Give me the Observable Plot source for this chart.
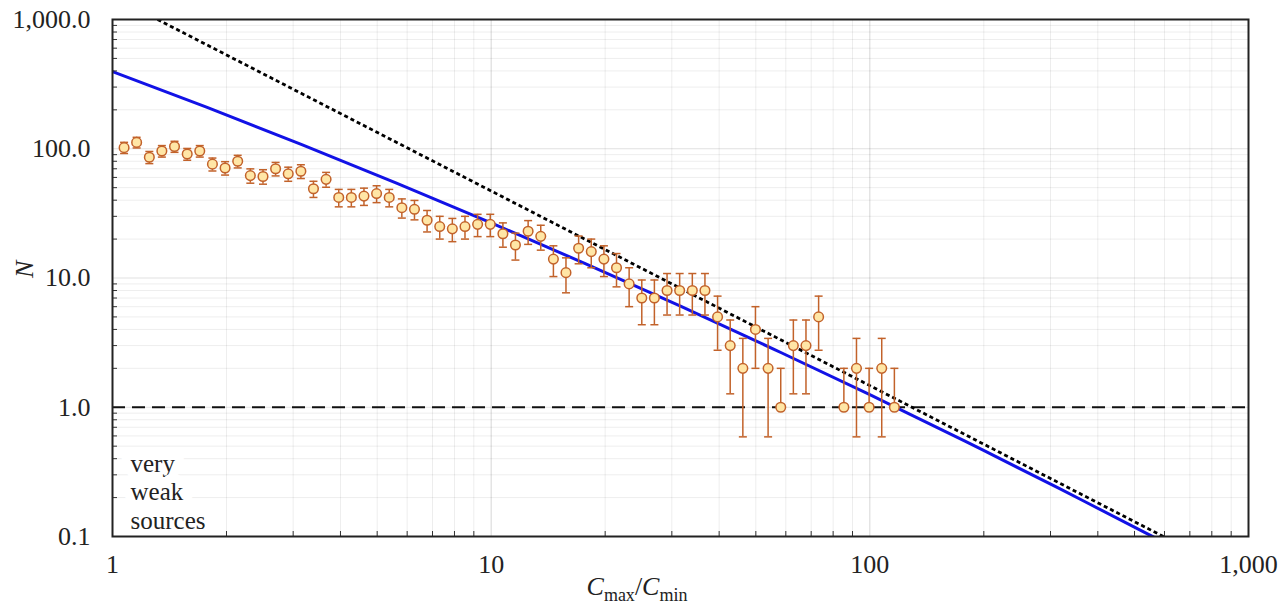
<!DOCTYPE html>
<html><head><meta charset="utf-8">
<script src="https://cdn.jsdelivr.net/npm/d3@7"></script>
<script src="https://cdn.jsdelivr.net/npm/@observablehq/plot@0.6"></script>
<style>
body{margin:0;background:#fff}
svg{display:block}
#chart svg, #chart svg text, #chart svg tspan { font-family: "Liberation Serif", "DejaVu Serif", serif !important; }
</style>
</head><body><div id="chart"></div>
<script>
// bin centres (Cmax/Cmin)
const binX = [1.073,1.158,1.251,1.350,1.458,1.575,1.700,1.836,1.983,2.141,2.312,2.497,2.696,2.911,3.144,3.394,3.665,3.958,4.273,4.614,4.982,5.380,5.809,6.273,6.773,7.314,7.897,8.528,9.209,9.945,10.74,11.59,12.52,13.52,14.60,15.76,17.02,18.38,19.85,21.43,23.14,24.99,26.98,29.14,31.46,33.98,36.69,39.62,42.78,46.20,49.88,53.87,58.17,62.81,67.82,73.24,85.40,92.20,99.56,107.5,116.1];
// counts N
const counts = [102,112,86,96,104,91,96,76,71,80,62,61,70,64,67,49,58,42,42,43,45,42,35,34,28,25,24,25,26,26,22,18,23,21,14,11,17,16,14,12,9,7,7,8,8,8,8,5,3,2,4,2,1,3,3,5,1,2,1,2,1];
// error bar half-lengths
const errs = [10.1,10.6,9.27,9.80,10.2,9.54,9.80,8.72,8.43,8.94,7.87,7.81,8.37,8.00,8.19,7.00,7.62,6.48,6.48,6.56,6.71,6.48,5.92,5.83,5.29,5.00,4.90,5.00,5.10,5.10,4.69,4.24,4.80,4.58,3.74,3.32,4.12,4.00,3.74,3.46,3.00,2.65,2.65,2.83,2.83,2.83,2.83,2.24,1.73,1.41,2.00,1.41,1.00,1.73,1.73,2.24,1.00,1.41,1.00,1.41,1.00];
// blue model curve
const fitX = [1, 1.778, 3.162, 5.623, 10, 17.78, 31.62, 56.23, 100, 177.8, 316.2, 562.3, 600];
const fitN = [395, 208.7, 107.6, 54.3, 26.7, 12.87, 6.05, 2.78, 1.25, 0.549, 0.2355, 0.0988, 0.09];
// dotted reference power law
const refX = [1.315, 596];
const refN = [1000, 0.1];
const thresholdN = [1];
const xTicks = [1, 10, 100, 1000];
const yTicks = [0.1, 1, 10, 100, 1000];
const noteText = "very\nweak\nsources";

const pts = binX.map((x, i) => ({x, n: counts[i], hi: counts[i] + errs[i], lo: counts[i] - errs[i] > 0 ? counts[i] - errs[i] : null}));
const fit = fitX.map((x, i) => ({x, n: fitN[i]}));
const ref = refX.map((x, i) => ({x, n: refN[i]}));

const minorOf = ticks => ticks.slice(0, -1).flatMap(t => d3.range(2, 10).map(k => +(t * k).toPrecision(3)));
const xMinor = minorOf(xTicks);
const yMinor = minorOf(yTicks);

const capSymbol = {draw(ctx, size) { const r = Math.sqrt(size / Math.PI); ctx.moveTo(-r, 0); ctx.lineTo(r, 0); }};
const ORANGE = "#c2622a";
const FONT = "'Liberation Serif', 'DejaVu Serif', serif";

const chart = Plot.plot({
  width: 1288, height: 608,
  marginLeft: 112, marginRight: 40, marginTop: 19, marginBottom: 72,
  style: `font-family: ${FONT}; font-size: 26px; color: #222; background: #fff;`,
  x: {type: "log", domain: [1, 1000]},
  y: {type: "log", domain: [0.1, 1000]},
  marks: [
    Plot.gridX(xMinor, {stroke: "#000", strokeOpacity: 0.07}),
    Plot.gridY(yMinor, {stroke: "#000", strokeOpacity: 0.07}),
    Plot.gridX(xTicks.slice(1, -1), {stroke: "#000", strokeOpacity: 0.16}),
    Plot.gridY(yTicks.slice(1, -1), {stroke: "#000", strokeOpacity: 0.12}),
    Plot.ruleY(thresholdN, {stroke: "#111", strokeWidth: 2, strokeDasharray: "13,7"}),
    Plot.line(ref, {x: "x", y: "n", stroke: "#000", strokeWidth: 2.8, strokeDasharray: "4,3", strokeLinecap: "butt", clip: true}),
    Plot.line(fit, {x: "x", y: "n", curve: "natural", stroke: "#1212e6", strokeWidth: 3, clip: true}),
    Plot.ruleX(pts, {x: "x", y1: d => d.lo ?? d.n, y2: "hi", stroke: ORANGE, strokeWidth: 1.5}),
    Plot.dot(pts, {x: "x", y: "hi", symbol: capSymbol, r: 4, fill: "none", stroke: ORANGE, strokeWidth: 1.5}),
    Plot.dot(pts.filter(d => d.lo != null), {x: "x", y: "lo", symbol: capSymbol, r: 4, fill: "none", stroke: ORANGE, strokeWidth: 1.5}),
    Plot.dot(pts, {x: "x", y: "n", r: 4.8, fill: "#ffe6a6", stroke: ORANGE, strokeWidth: 1.5}),
    Plot.text([noteText], {frameAnchor: "bottom-left", dx: 18, dy: -8, textAnchor: "start", lineAnchor: "bottom", lineHeight: 1.13, fontSize: 25, fill: "#222", stroke: "#fff", strokeWidth: 18}),
    Plot.text(["N"], {frameAnchor: "left", dx: -88, rotate: -90, fontSize: 26, fontStyle: "italic", fill: "#222"}),
    Plot.axisX(xMinor, {tickSize: -5, tickFormat: () => "", label: null, stroke: "#333"}),
    Plot.axisY(yMinor, {tickSize: -5, tickFormat: () => "", label: null, stroke: "#333"}),
    Plot.axisX(xTicks, {tickSize: 0, tickPadding: 18, tickFormat: d3.format(","), fontSize: 26, label: null}),
    Plot.axisY(yTicks, {tickSize: 0, tickPadding: 22, tickFormat: d3.format(",.1f"), fontSize: 26, label: null}),
    Plot.frame({stroke: "#222", strokeWidth: 2})
  ]
});
document.getElementById("chart").appendChild(chart);

// x-axis title with subscripts
const t = d3.select(chart).append("text")
  .attr("x", 637).attr("y", 595).attr("text-anchor", "middle")
  .attr("font-size", 26).attr("fill", "#222");
t.append("tspan").attr("font-style", "italic").text("C");
t.append("tspan").attr("font-size", 18).attr("dy", 6).text("max");
t.append("tspan").attr("dy", -6).text("/");
t.append("tspan").attr("font-style", "italic").text("C");
t.append("tspan").attr("font-size", 18).attr("dy", 6).text("min");
</script>
</body></html>
